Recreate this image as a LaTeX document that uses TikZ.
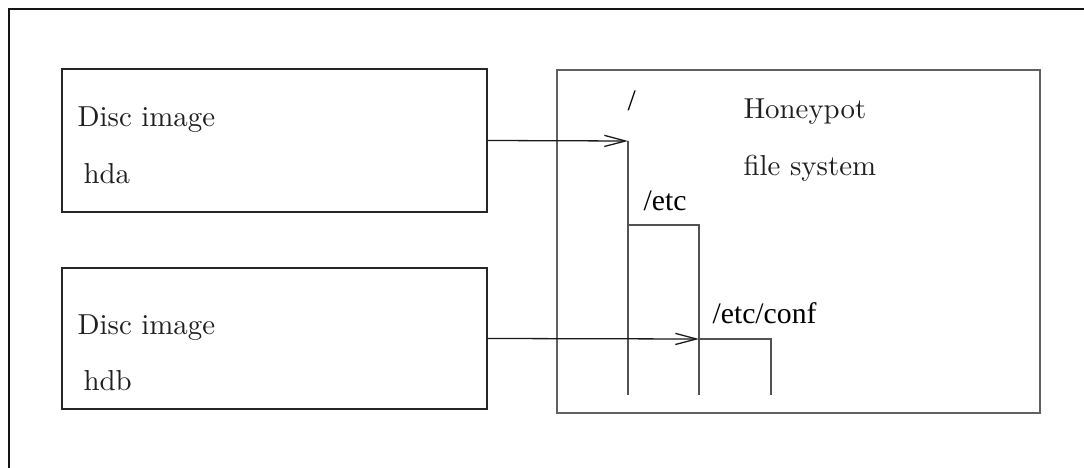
\documentclass[tikz,border=0pt]{standalone}
\usepackage{fontspec}
\newfontfamily\tms{Liberation Serif}
\usetikzlibrary{arrows.meta}

\tikzset{
  frame/.style={draw=black!92, line width=1pt},
  discbox/.style={draw=black!85, line width=0.45pt, inner sep=0pt, minimum width=148.75pt, minimum height=50.05pt},
  fsbox/.style={draw=black!62, line width=0.65pt},
  tree/.style={draw=black!68, line width=0.5pt},
  arr/.style={draw=black!90, line width=0.45pt, -{Straight Barb[length=7.4pt,width=3.9pt,line width=0.45pt]}},
  lbl/.style={anchor=base west, inner sep=0pt, text=black!88, font=\fontsize{10.1pt}{12pt}\selectfont},
  path/.style={anchor=base west, inner sep=0pt, text=black, font=\tms\fontsize{10.4pt}{12pt}\selectfont},
}

\begin{document}
\begin{tikzpicture}[x=0.35pt, y=-0.35pt]
  \useasboundingbox (0,0) rectangle (1084,468);

  % outer frame
  \draw[frame] (9,468) -- (9,9) -- (1084,9);

  % disc images
  \node[discbox] (hda) at (274.5,140.5) {};
  \node[discbox, minimum height=49.35pt] (hdb) at (274.5,338.5) {};
  \node[lbl] (hdaT1) at (77,127) {Disc image};
  \node[lbl] (hdaT2) at (83,183) {hda};
  \node[lbl] (hdbT1) at (77,334) {Disc image};
  \node[lbl] (hdbT2) at (83,390) {hdb};

  % honeypot file system
  \draw[fsbox] (557,70) rectangle (1040,413);
  \node[lbl] (hp1) at (743,119) {Honeypot};
  \node[lbl] (hp2) at (743,176) {file system};

  % directory tree
  \coordinate (root) at (628,141);
  \coordinate (etcL) at (628,225);
  \coordinate (etcR) at (699,225);
  \coordinate (conf) at (699,339);
  \coordinate (confR) at (771,339);
  \coordinate (bot) at (0,395);

  \node[path] (rootT) at (627,111) {/};
  \node[path] (etcT) at (643,211) {/etc};
  \node[path] (confT) at (712,323) {/etc/conf};

  \draw[tree] (root) -- (root |- bot);
  \draw[tree] (etcL) -- (etcR) -- (etcR |- bot);
  \draw[tree] (conf) -- (confR) -- (confR |- bot);

  % mounts
  \draw[arr] (hda.east) -- (root);
  \draw[arr] (hdb.east) -- (conf);
\end{tikzpicture}
\end{document}
